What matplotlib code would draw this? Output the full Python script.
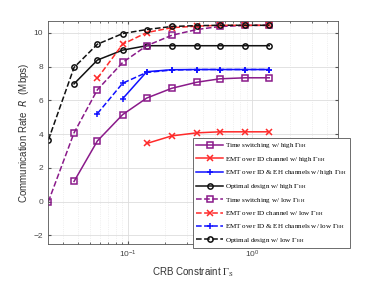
import numpy as np
import matplotlib.pyplot as plt

# CRB constraint values (x axis, log scale)
crb = [0.023, 0.037, 0.057, 0.091, 0.142, 0.226, 0.36, 0.55, 0.88, 1.37]

# rates (Mbps), None where the curve has no point
ts_high = [None, 1.2, 3.6, 5.16, 6.14, 6.72, 7.08, 7.28, 7.34, 7.34]
emt_id_high = [None, None, None, None, 3.45, 3.9, 4.08, 4.14, 4.14, 4.14]
emt_both_high = [None, None, None, 6.1, 7.7, 7.82, 7.83, 7.83, 7.83, 7.83]
opt_high = [None, 6.98, 8.39, 8.98, 9.24, 9.24, 9.24, 9.24, 9.24, 9.24]
ts_low = [0.0, 4.08, 6.63, 8.25, 9.24, 9.86, 10.2, 10.38, 10.44, 10.45]
emt_id_low = [None, None, 7.31, 9.33, 10.02, 10.31, 10.4, 10.45, 10.45, 10.45]
emt_both_low = [None, None, 5.22, 7.02, 7.66, 7.8, 7.83, 7.83, 7.83, 7.83]
opt_low = [3.65, 7.95, 9.33, 9.96, 10.2, 10.38, 10.43, 10.45, 10.45, 10.45]

purple = '#8a1a8a'
red = '#ff2a2a'
blue = '#1010ff'
black = '#111111'

series = [
    (ts_high, purple, 's', '-', r'Time switching w/ high $\Gamma_{\rm EH}$'),
    (emt_id_high, red, 'x', '-', r'EMT over ID channel w/ high $\Gamma_{\rm EH}$'),
    (emt_both_high, blue, '+', '-', r'EMT over ID & EH channels w/ high $\Gamma_{\rm EH}$'),
    (opt_high, black, 'o', '-', r'Optimal design w/ high $\Gamma_{\rm EH}$'),
    (ts_low, purple, 's', '--', r'Time switching w/ low $\Gamma_{\rm EH}$'),
    (emt_id_low, red, 'x', '--', r'EMT over ID channel w/ low $\Gamma_{\rm EH}$'),
    (emt_both_low, blue, '+', '--', r'EMT over ID & EH channels w/ low $\Gamma_{\rm EH}$'),
    (opt_low, black, 'o', '--', r'Optimal design w/ low $\Gamma_{\rm EH}$'),
]

plt.rcParams['font.family'] = ['Liberation Sans', 'DejaVu Sans']
plt.rcParams['mathtext.fontset'] = 'dejavusans'

fig = plt.figure(figsize=(3.74, 2.81), dpi=100)
ax = fig.add_axes([0.128, 0.132, 0.776, 0.793])

x = np.array(crb)
for vals, c, m, ls, lab in series:
    y = np.array([np.nan if v is None else v for v in vals])
    ax.plot(x, y, color=c, marker=m, linestyle=ls, linewidth=1.1,
            markersize=3.8, markerfacecolor='none', markeredgewidth=1.1,
            label=lab)

ax.set_xscale('log')
ax.set_xlim(0.0228, 4.9)
ax.set_ylim(-2.5, 10.7)
ax.set_yticks([-2, 0, 2, 4, 6, 8, 10])

ax.grid(True, which='major', color='#dddddd', linewidth=0.6)
ax.grid(True, which='minor', color='#e4e4e4', linewidth=0.5, linestyle=':')
ax.set_axisbelow(True)

for s in ax.spines.values():
    s.set_color('#555555')
    s.set_linewidth(0.6)
ax.tick_params(which='both', direction='in', colors='#555555', labelsize=6,
               top=True, right=True, length=2.5)
ax.tick_params(which='minor', length=1.5)
for lbl in ax.get_xticklabels() + ax.get_yticklabels():
    lbl.set_color('#444444')

ax.set_xlabel(r'CRB Constraint $\Gamma_{\rm S}$', fontsize=7, color='#333333',
              labelpad=4, math_fontfamily='stix')
ax.set_ylabel(r'Communication Rate  $R$  (Mbps)', fontsize=7, color='#333333', labelpad=2)

leg = ax.legend(loc='lower left', bbox_to_anchor=(0.516, 0.117),
                bbox_transform=fig.transFigure, fancybox=False, framealpha=1,
                edgecolor='#555555', prop={'family': 'Liberation Serif', 'size': 5.1},
                handlelength=3.8, handletextpad=0.2, labelspacing=0.64,
                borderpad=0.45, borderaxespad=0)
leg.get_frame().set_linewidth(0.6)
for t in leg.get_texts():
    t.set_math_fontfamily('stix')

fig.savefig('out.png', dpi=100)
